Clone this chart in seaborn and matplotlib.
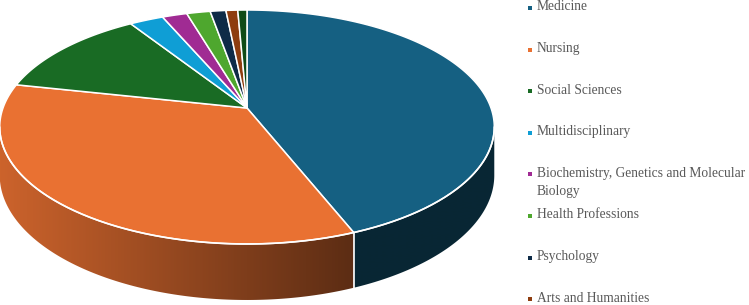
import numpy as np
import matplotlib
matplotlib.use("Agg")
import matplotlib.pyplot as plt
import seaborn as sns
from matplotlib.patches import Polygon

# ---- data ----
categories = ["Medicine", "Nursing", "Social Sciences", "Multidisciplinary",
              "Biochemistry, Genetics and Molecular\nBiology", "Health Professions",
              "Psychology", "Arts and Humanities", "Other"]
shares = [43.9, 34.4, 12.5, 2.6, 1.9, 1.8, 1.2, 0.9, 0.7]
colors = ["#156082", "#E97132", "#196B24", "#0F9ED5", "#A02B93",
          "#4EA72E", "#0E2B47", "#8E3D0F", "#0F4A16"]
legend_count = 8

sns.set_theme(style="white")
plt.rcParams['font.family'] = ['Liberation Serif', 'DejaVu Serif']
palette = sns.color_palette(colors)

W, HP = 749, 305
fig = plt.figure(figsize=(W / 100, HP / 100), dpi=100)
ax = fig.add_axes([0, 0, 1, 1])
ax.axis('off')

# perspective geometry of the 3-D pie
cx, cy = 247.0, 108.0
A, B, k, depth = 244.0, 113.9, 0.1624, 46.9


def proj(theta_deg, z=0.0):
    t = np.radians(theta_deg)
    u, v = np.cos(t), np.sin(t)
    d = 1 + k * v
    return cx + A * u / d, cy - (B * v + depth * z) / d


def shade(x):
    return np.clip(0.87 - 0.47 * (x - 5) / 345, 0.40, 1.0)


vals = np.array(shares, dtype=float)
frac = vals / vals.sum()
cum = np.concatenate([[0], np.cumsum(frac)])
starts = 90 - 360 * cum[:-1]
ends = 90 - 360 * cum[1:]

# ---- side wall (visible front part) ----
t_tan = np.degrees(np.arcsin(-k))
th_lo, th_hi = 180 - t_tan, 360 + t_tan    # visible arc 189.3 .. 350.7

xcols = np.linspace(0, 500, 501)
for i in range(len(vals)):
    s, e = starts[i], ends[i]          # s > e (clockwise)
    for off in (0, 360, 720):
        lo, hi = e + off, s + off
        a, b = max(lo, th_lo), min(hi, th_hi)
        if b <= a:
            continue
        th = np.linspace(a, b, 200)
        xt, yt = proj(th, 0)
        xb, yb = proj(th[::-1], -1)
        poly = Polygon(np.column_stack([np.concatenate([xt, xb]),
                                        np.concatenate([yt, yb])]),
                       closed=True, facecolor='none', edgecolor='none')
        ax.add_patch(poly)
        grad = np.array(palette[i])[None, None, :] * shade(xcols)[None, :, None]
        im = ax.imshow(grad, extent=(0, 500, 305, 90), aspect='auto',
                       interpolation='bilinear', zorder=1)
        im.set_clip_path(poly)

# white vertical edges on the side at slice boundaries
for b in ends:
    bb = b % 360
    if th_lo < bb < th_hi:
        xa, ya = proj(bb, 0)
        xb, yb = proj(bb, -1)
        ax.plot([xa, xb], [ya, yb], color='white', lw=1.2, zorder=2)

# ---- top face ----
for i in range(len(vals)):
    n = max(int(abs(starts[i] - ends[i]) * 2), 4)
    th = np.linspace(starts[i], ends[i], n)
    xs, ys = proj(th, 0)
    ax.fill(np.concatenate([[cx], xs]), np.concatenate([[cy], ys]),
            facecolor=palette[i], edgecolor='white', lw=1.1,
            joinstyle='round', zorder=3)

# white rim along front top edge
rt = np.linspace(th_lo, th_hi, 300)
rx, ry = proj(rt, 0)
ax.plot(rx, ry, color='white', lw=1.2, zorder=4)

# ---- legend ----
for i in range(legend_count):
    yrow = 7 + 41.6 * i
    ax.scatter([530], [yrow + 1], s=9, marker='s', color=palette[i],
               linewidths=0, zorder=5)
    ax.text(537, yrow - 6.5, categories[i], fontsize=9.75, color='#595959',
            va='top', ha='left', linespacing=1.55, zorder=5)

ax.set_xlim(0, W)
ax.set_ylim(HP, 0)
fig.savefig("out.png", dpi=100)
